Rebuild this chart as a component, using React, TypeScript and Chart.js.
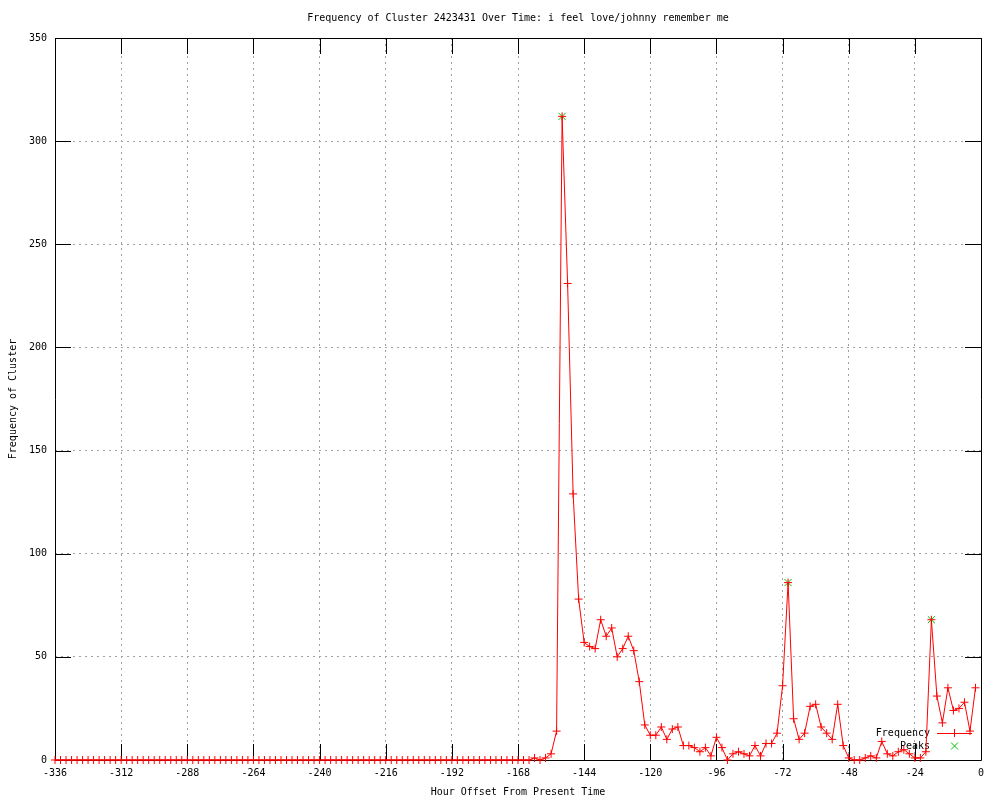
import React, { useEffect, useRef } from "react";
import { Chart, registerables } from "chart.js";

Chart.register(...registerables);

const TITLE = "Frequency of Cluster 2423431 Over Time: i feel love/johnny remember me";
const X_TITLE = "Hour Offset From Present Time";
const Y_TITLE = "Frequency of Cluster";
const LEGEND_LABELS = ["Frequency", "Peaks"];

const hours = [
  -336, -334, -332, -330, -328, -326, -324, -322, -320, -318, -316, -314, -312, -310, -308, -306, -304,
  -302, -300, -298, -296, -294, -292, -290, -288, -286, -284, -282, -280, -278, -276, -274, -272,
  -270, -268, -266, -264, -262, -260, -258, -256, -254, -252, -250, -248, -246, -244, -242, -240,
  -238, -236, -234, -232, -230, -228, -226, -224, -222, -220, -218, -216, -214, -212, -210, -208,
  -206, -204, -202, -200, -198, -196, -194, -192, -190, -188, -186, -184, -182, -180, -178, -176,
  -174, -172, -170, -168, -166, -164, -162, -160, -158, -156, -154, -152, -150, -148, -146, -144,
  -142, -140, -138, -136, -134, -132, -130, -128, -126, -124, -122, -120, -118, -116, -114, -112,
  -110, -108, -106, -104, -102, -100, -98, -96, -94, -92, -90, -88, -86, -84, -82, -80,
  -78, -76, -74, -72, -70, -68, -66, -64, -62, -60, -58, -56, -54, -52, -50, -48,
  -46, -44, -42, -40, -38, -36, -34, -32, -30, -28, -26, -24, -22, -20, -18, -16,
  -14, -12, -10, -8, -6, -4, -2,
];

const frequency = [
  0, 0, 0, 0, 0, 0, 0, 0, 0, 0, 0, 0, 0, 0, 0, 0, 0,
  0, 0, 0, 0, 0, 0, 0, 0, 0, 0, 0, 0, 0, 0, 0, 0,
  0, 0, 0, 0, 0, 0, 0, 0, 0, 0, 0, 0, 0, 0, 0, 0,
  0, 0, 0, 0, 0, 0, 0, 0, 0, 0, 0, 0, 0, 0, 0, 0,
  0, 0, 0, 0, 0, 0, 0, 0, 0, 0, 0, 0, 0, 0, 0, 0,
  0, 0, 0, 0, 0, 0, 1, 0, 1, 3, 14, 312, 231, 129, 78, 57,
  55, 54, 68, 60, 64, 50, 54, 60, 53, 38, 17, 12, 12, 16, 10, 15,
  16, 7, 7, 6, 4, 6, 2, 11, 6, 0, 3, 4, 3, 2, 7, 2,
  8, 8, 13, 36, 86, 20, 10, 13, 26, 27, 16, 13, 10, 27, 7, 1,
  0, 0, 1, 2, 1, 9, 3, 2, 4, 5, 3, 1, 1, 4, 68, 31,
  18, 35, 24, 25, 28, 14, 35,
];

const peakHours = [-152, -70, -18];
const peakValues = [312, 86, 68];

const xTicks = [-336, -312, -288, -264, -240, -216, -192, -168, -144, -120, -96, -72, -48, -24, 0];
const yTicks = [0, 50, 100, 150, 200, 250, 300, 350];

const FONT_FAMILY = "'DejaVu Sans Mono', 'Liberation Mono', monospace";
const FONT = `10px ${FONT_FAMILY}`;
const RED = "#ff0000";
const GREEN = "#00c000";
const TICK_LEN = 16;

const framePlugin = {
  id: "gnuFrame",
  beforeDatasetsDraw(chart: any) {
    const { ctx, chartArea: a, scales } = chart;
    const xs = scales.x;
    const ys = scales.y;
    ctx.save();
    // title, centred over the plot area
    ctx.font = FONT;
    ctx.fillStyle = "#000";
    ctx.textAlign = "center";
    ctx.textBaseline = "middle";
    ctx.fillText(TITLE, (a.left + a.right) / 2, a.top - 20);

    // border
    ctx.strokeStyle = "#000";
    ctx.lineWidth = 1;
    ctx.setLineDash([]);
    ctx.beginPath();
    ctx.rect(Math.round(a.left) + 0.5, Math.round(a.top) + 0.5, Math.round(a.right - a.left), Math.round(a.bottom - a.top));
    ctx.stroke();
    // inward ticks
    ctx.beginPath();
    xTicks.forEach((v) => {
      const px = Math.round(xs.getPixelForValue(v)) + 0.5;
      ctx.moveTo(px, a.bottom);
      ctx.lineTo(px, a.bottom - TICK_LEN);
      ctx.moveTo(px, a.top);
      ctx.lineTo(px, a.top + TICK_LEN);
    });
    yTicks.forEach((v) => {
      const py = Math.round(ys.getPixelForValue(v)) + 0.5;
      ctx.moveTo(a.left, py);
      ctx.lineTo(a.left + TICK_LEN, py);
      ctx.moveTo(a.right, py);
      ctx.lineTo(a.right - TICK_LEN, py);
    });
    ctx.stroke();

    // key
    const textRight = a.right - 51;
    const row1 = a.bottom - 27;
    const row2 = a.bottom - 14;
    ctx.font = FONT;
    ctx.fillStyle = "#000";
    ctx.textAlign = "right";
    ctx.textBaseline = "middle";
    ctx.fillText(LEGEND_LABELS[0], textRight, row1);
    ctx.fillText(LEGEND_LABELS[1], textRight, row2);
    const sx0 = textRight + 7;
    const sx1 = textRight + 42;
    const sxm = (sx0 + sx1) / 2;
    ctx.strokeStyle = RED;
    ctx.beginPath();
    ctx.moveTo(sx0, row1 + 0.5);
    ctx.lineTo(sx1, row1 + 0.5);
    ctx.moveTo(sxm, row1 - 4);
    ctx.lineTo(sxm, row1 + 4);
    ctx.stroke();
    ctx.strokeStyle = GREEN;
    ctx.beginPath();
    ctx.moveTo(sxm - 3.5, row2 - 3.5);
    ctx.lineTo(sxm + 3.5, row2 + 3.5);
    ctx.moveTo(sxm - 3.5, row2 + 3.5);
    ctx.lineTo(sxm + 3.5, row2 - 3.5);
    ctx.stroke();
    ctx.restore();
  },
};

export default function App() {
  const canvasRef = useRef<HTMLCanvasElement | null>(null);

  useEffect(() => {
    if (!canvasRef.current) return;
    Chart.defaults.font.family = FONT_FAMILY;
    Chart.defaults.font.size = 10;
    Chart.defaults.color = "#000";

    const chart = new Chart(canvasRef.current, {
      type: "line",
      data: {
        datasets: [
          {
            label: LEGEND_LABELS[0],
            data: hours.map((h, i) => ({ x: h, y: frequency[i] })),
            borderColor: RED,
            backgroundColor: RED,
            borderWidth: 1,
            tension: 0,
            pointStyle: "cross",
            pointRadius: 4,
            pointBorderColor: RED,
            pointBorderWidth: 1,
            clip: 6,
            order: 0,
          },
          {
            label: LEGEND_LABELS[1],
            data: peakHours.map((h, i) => ({ x: h, y: peakValues[i] })),
            showLine: false,
            borderColor: GREEN,
            backgroundColor: GREEN,
            pointStyle: "crossRot",
            pointRadius: 5,
            pointBorderColor: GREEN,
            pointBorderWidth: 1,
            clip: 6,
            order: 1,
          },
        ],
      },
      options: {
        responsive: false,
        animation: false,
        devicePixelRatio: 1,
        events: [],
        layout: { padding: { left: 0, right: 19, top: 38, bottom: 0 } },
        plugins: {
          legend: { display: false },
          tooltip: { enabled: false },
          title: { display: false },
        },
        scales: {
          x: {
            type: "linear",
            min: -336,
            max: 0,
            afterBuildTicks: (scale: any) => {
              scale.ticks = xTicks.map((v) => ({ value: v }));
            },
            afterFit: (scale: any) => {
              scale.height = 40;
            },
            ticks: {
              autoSkip: false,
              maxRotation: 0,
              minRotation: 0,
              padding: 7,
              color: "#000",
              font: { family: FONT_FAMILY, size: 10 },
            },
            grid: { color: "#a0a0a0", lineWidth: 1, drawTicks: false },
            border: { display: false, dash: [2, 4] },
            title: {
              display: true,
              text: X_TITLE,
              color: "#000",
              font: { family: FONT_FAMILY, size: 10 },
              padding: { top: 0, bottom: 2 },
            },
          },
          y: {
            type: "linear",
            min: 0,
            max: 350,
            afterBuildTicks: (scale: any) => {
              scale.ticks = yTicks.map((v) => ({ value: v }));
            },
            afterFit: (scale: any) => {
              scale.width = 55;
            },
            ticks: {
              padding: 8,
              color: "#000",
              font: { family: FONT_FAMILY, size: 10 },
            },
            grid: { color: "#a0a0a0", lineWidth: 1, drawTicks: false },
            border: { display: false, dash: [2, 4] },
            title: {
              display: true,
              text: Y_TITLE,
              color: "#000",
              font: { family: FONT_FAMILY, size: 10 },
              padding: { top: 7, bottom: 0 },
            },
          },
        },
      },
      plugins: [framePlugin],
    });
    return () => chart.destroy();
  }, []);

  return (
    <div style={{ position: "absolute", left: 0, top: 0, width: 1000, height: 800, background: "#fff" }}>
      <canvas ref={canvasRef} width={1000} height={800} style={{ display: "block" }} />
    </div>
  );
}
